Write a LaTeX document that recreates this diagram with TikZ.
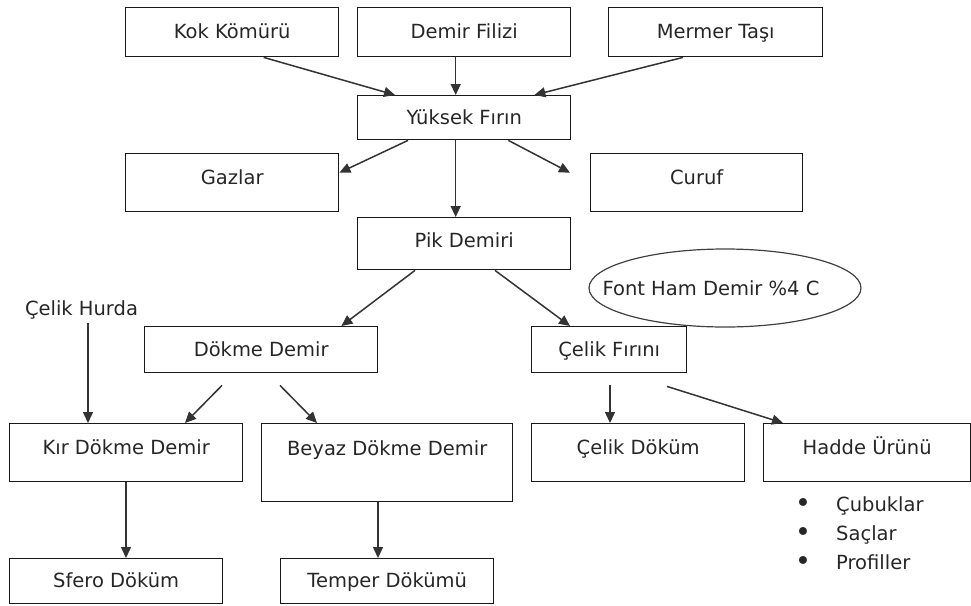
\documentclass[tikz,border=0pt]{standalone}
\usepackage{fontspec}
\setmainfont{DejaVu Sans}
\usetikzlibrary{arrows.meta,shapes.geometric}
\newcommand\dgfont{\fontsize{19.5}{23}\selectfont}
\newcommand\dgbul{\makebox[41pt][l]{\fontsize{27}{23}\selectfont\raisebox{-1pt}{•}}}
\tikzset{
  bx/.style={draw=black!90, line width=1.4pt, anchor=north west, inner xsep=0pt, inner ysep=0pt, font=\dgfont, text=black!85},
  arr/.style={-{Triangle[length=11pt,width=10pt]}, line width=1.5pt, draw=black!80},
  plain/.style={font=\dgfont, text=black!85, inner sep=0pt}
}
\begin{document}
\begin{tikzpicture}[x=1pt,y=-1pt]
\useasboundingbox (0,0) rectangle (971,605);
% top row
\node[bx, minimum width=213pt, minimum height=49pt, text height=31pt, text depth=18pt] (kok) at (125,7) {Kok Kömürü};
\node[bx, minimum width=213pt, minimum height=49pt, text height=31pt, text depth=18pt] (demir) at (357,7) {Demir Filizi};
\node[bx, minimum width=214pt, minimum height=49pt, text height=31pt, text depth=18pt] (mermer) at (608,7) {Mermer Taşı};
\node[bx, minimum width=213pt, minimum height=44pt, text height=28.5pt, text depth=15.5pt] (yuksek) at (357,95) {Yüksek Fırın};
\node[bx, minimum width=213pt, minimum height=58pt, text height=30.5pt, text depth=27.5pt] (gazlar) at (125,153) {Gazlar};
\node[bx, minimum width=212pt, minimum height=58pt, text height=30.5pt, text depth=27.5pt] (curuf) at (590,153) {Curuf};
\node[bx, minimum width=213pt, minimum height=52pt, text height=29.5pt, text depth=22.5pt] (pik) at (357,217) {Pik Demiri};
\node[draw=black!75, line width=1.2pt, ellipse, minimum width=272pt, minimum height=78pt, inner sep=0pt, font=\dgfont, text=black!85] (font) at (725,288) {\kern-28pt Font Ham Demir \%4 C};
\node[plain] (hurda) at (81.5,310) {Çelik Hurda};
\node[bx, minimum width=233pt, minimum height=46pt, text height=29.5pt, text depth=16.5pt] (dokme) at (144,326) {Dökme Demir};
\node[bx, minimum width=155pt, minimum height=46pt, text height=29.5pt, text depth=16.5pt] (cfirin) at (531,326) {Çelik Fırını};
\node[bx, minimum width=233pt, minimum height=58pt, text height=30.5pt, text depth=27.5pt] (kir) at (9,423) {Kır Dökme Demir};
\node[bx, minimum width=251pt, minimum height=78pt, text height=31.5pt, text depth=46.5pt] (beyaz) at (261,423) {Beyaz Dökme Demir};
\node[bx, minimum width=213pt, minimum height=58pt, text height=30.5pt, text depth=27.5pt] (cdokum) at (531,423) {Çelik Döküm};
\node[bx, minimum width=207pt, minimum height=58pt, text height=30.5pt, text depth=27.5pt] (hadde) at (763,423) {Hadde Ürünü};
\node[bx, minimum width=213pt, minimum height=45pt, text height=28.5pt, text depth=16.5pt] (sfero) at (9,558) {Sfero Döküm};
\node[bx, minimum width=213pt, minimum height=45pt, text height=28.5pt, text depth=16.5pt] (temper) at (280,558) {Temper Dökümü};
% bullet list
\node[plain, anchor=base west] (l1) at (795,511.5) {\dgbul Çubuklar};
\node[plain, anchor=base west] (l2) at (795,540.5) {\dgbul Saçlar};
\node[plain, anchor=base west] (l3) at (795,569) {\dgbul Profiller};
% arrows
\coordinate (hk) at ([xshift=79pt]kir.north west);
\draw[arr] ([xshift=31.5pt]kok.south) -- ([xshift=38pt]yuksek.north west);
\draw[arr] ([xshift=-8.5pt]demir.south) -- ([xshift=-8.5pt]yuksek.north);
\draw[arr] ([xshift=75pt]mermer.south west) -- ([xshift=-37pt]yuksek.north east);
\draw[arr] ([xshift=51pt]yuksek.south west) -- ([yshift=10pt]gazlar.east);
\draw[arr] ([xshift=-63pt]yuksek.south east) -- ([xshift=-20pt,yshift=10pt]curuf.west);
\draw[arr] ([xshift=-8.5pt]yuksek.south) -- ([xshift=-8.5pt]pik.north);
\draw[arr] ([xshift=58pt]pik.south west) -- ([xshift=-37pt]dokme.north east);
\draw[arr] ([xshift=138pt]pik.south west) -- ([xshift=39pt]cfirin.north west);
\draw[arr] ([yshift=-4pt]hurda.south -| hk) -- (hk);
\draw[arr] ([xshift=78pt,yshift=-12pt]dokme.south west) -- ([xshift=176pt]kir.north west);
\draw[arr] ([xshift=136pt,yshift=-12pt]dokme.south west) -- ([xshift=56pt]beyaz.north west);
\draw[arr] ([xshift=117pt]kir.south west) -- ([xshift=117pt]sfero.north west);
\draw[arr] ([xshift=117pt]beyaz.south west) -- ([xshift=98pt]temper.north west);
\draw[arr] ([xshift=79pt,yshift=-12pt]cfirin.south west) -- ([xshift=79pt]cdokum.north west);
\draw[arr] ([xshift=136pt,yshift=-13pt]cfirin.south west) -- ([xshift=20pt]hadde.north west);
\end{tikzpicture}
\end{document}
